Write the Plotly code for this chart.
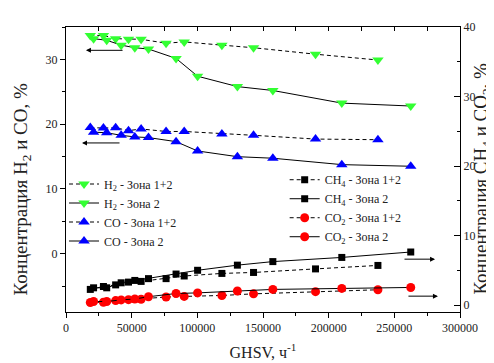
import plotly.graph_objects as go

# GHSV values (h^-1)
ghsv_12 = [18500, 28500, 37800, 47600, 57200, 76200, 90000, 118700, 142800, 190000, 237500]
ghsv_2 = [21000, 31000, 42000, 52400, 62800, 83800, 100200, 130500, 157500, 210000, 262500]

# Left axis (H2, CO), %
h2_12 = [33.7, 33.7, 33.2, 33.1, 33.1, 32.5, 32.7, 32.2, 31.8, 30.8, 29.9]
h2_2 = [33.2, 32.95, 32.2, 31.8, 31.6, 30.15, 27.4, 25.8, 25.2, 23.25, 22.8]
co_12 = [19.47, 19.4, 19.45, 19.0, 19.26, 18.87, 18.87, 18.5, 18.28, 17.7, 17.6]
co_2 = [18.77, 18.67, 18.28, 18.03, 17.93, 17.3, 15.86, 14.98, 14.74, 13.75, 13.5]

# Right axis (CH4, CO2), %
ch4_12 = [2.25, 2.67, 2.9, 3.3, 3.4, 3.8, 4.18, 4.55, 4.69, 5.2, 5.7]
ch4_2 = [2.48, 2.48, 3.2, 3.54, 3.8, 4.46, 5.0, 5.74, 6.25, 6.85, 7.63]
co2_12 = [0.37, 0.41, 0.64, 0.78, 0.83, 1.15, 1.24, 1.38, 1.61, 1.93, 2.2]
co2_2 = [0.51, 0.51, 0.74, 0.87, 1.2, 1.66, 1.75, 2.02, 2.25, 2.39, 2.53]

FONT = "Liberation Serif, Times New Roman, serif"
GREEN = "#33ff33"
BLUE = "#0000ff"
RED = "#ff0000"
TXT = "#222"
DASH = "4px,3px"

fig = go.Figure()

def add(x, y, name, dash, symbol, color, size, yaxis, legend):
    fig.add_trace(go.Scatter(
        x=x, y=y, name=name, mode="lines+markers",
        line=dict(color="black", width=1, dash=dash),
        marker=dict(symbol=symbol, color=color, size=size, line=dict(width=0)),
        yaxis=yaxis, legend=legend,
    ))

add(ghsv_12, h2_12, "H<sub>2</sub> - Зона 1+2", DASH, "triangle-down", GREEN, 10, "y", "legend")
add(ghsv_2, h2_2, "H<sub>2</sub> - Зона 2", "solid", "triangle-down", GREEN, 10, "y", "legend")
add(ghsv_12, co_12, "CO - Зона 1+2", DASH, "triangle-up", BLUE, 10, "y", "legend")
add(ghsv_2, co_2, "CO - Зона 2", "solid", "triangle-up", BLUE, 10, "y", "legend")
add(ghsv_12, ch4_12, "CH<sub>4</sub> - Зона 1+2", DASH, "square", "black", 7, "y2", "legend2")
add(ghsv_2, ch4_2, "CH<sub>4</sub> - Зона 2", "solid", "square", "black", 7, "y2", "legend2")
add(ghsv_12, co2_12, "CO<sub>2</sub> - Зона 1+2", DASH, "circle", RED, 9, "y2", "legend2")
add(ghsv_2, co2_2, "CO<sub>2</sub> - Зона 2", "solid", "circle", RED, 9, "y2", "legend2")

# invisible trace to activate top axis
fig.add_trace(go.Scatter(x=[0], y=[None], xaxis="x2", showlegend=False, hoverinfo="skip"))

line_common = dict(showgrid=False, zeroline=False, showline=True, linecolor="black", linewidth=1,
                   tickcolor="black")
axis_common = dict(line_common, tickfont=dict(family=FONT, size=12, color=TXT))

fig.update_layout(
    width=494, height=363,
    margin=dict(l=58, r=42, t=17, b=49),
    plot_bgcolor="white", paper_bgcolor="white",
    font=dict(family=FONT, size=12, color=TXT),
    xaxis=dict(range=[0, 300000], dtick=50000, tick0=0, tickformat="d", ticks="outside", ticklen=5,
               minor=dict(dtick=25000, ticks="outside", ticklen=3, tickcolor="black"),
               title=dict(text="GHSV, ч<sup>-1</sup>", font=dict(family=FONT, size=16, color=TXT), standoff=12),
               **axis_common),
    xaxis2=dict(range=[0, 300000], overlaying="x", side="top", showticklabels=False, ticks="inside",
                dtick=25000, tick0=0, ticklen=4, **line_common),
    yaxis=dict(range=[-9, 35], dtick=10, tick0=0, ticks="outside", ticklen=5,
               minor=dict(dtick=5, ticks="outside", ticklen=3, tickcolor="black"),
               **axis_common),
    yaxis2=dict(range=[-1, 40], dtick=10, tick0=0, ticks="inside", ticklen=6, overlaying="y", side="right",
                minor=dict(dtick=5, ticks="inside", ticklen=3, tickcolor="black"),
                **axis_common),
    legend=dict(x=-0.005, y=0.5, xanchor="left", yanchor="top", bgcolor="rgba(0,0,0,0)",
                font=dict(family=FONT, size=12, color=TXT), itemwidth=30, tracegroupgap=0),
    legend2=dict(x=0.555, y=0.515, xanchor="left", yanchor="top", bgcolor="rgba(0,0,0,0)",
                 font=dict(family=FONT, size=12, color=TXT), itemwidth=30, tracegroupgap=0),
)

# axis titles (rotated)
fig.add_annotation(text="Концентрация H<sub>2</sub> и CO, %", xref="paper", yref="paper",
                   x=(14 - 58) / 394, y=0.43, xanchor="center", yanchor="middle",
                   textangle=-90, showarrow=False,
                   font=dict(family=FONT, size=19, color=TXT))
fig.add_annotation(text="Концентрация CH<sub>4</sub> и CO<sub>2</sub>, %", xref="paper", yref="paper",
                   x=(474 - 58) / 394, y=0.468, xanchor="center", yanchor="middle",
                   textangle=-90, showarrow=False,
                   font=dict(family=FONT, size=19, color=TXT))

# arrows indicating axes
arrows = [
    dict(x=15200, y=31.4, ax=44200, ay=31.4, yref="y"),
    dict(x=12200, y=17.1, ax=41900, ay=17.1, yref="y"),
    dict(x=281000, y=6.6, ax=256600, ay=6.6, yref="y2"),
    dict(x=283200, y=1.28, ax=259600, ay=1.28, yref="y2"),
]
for a in arrows:
    fig.add_annotation(x=a["x"], y=a["y"], ax=a["ax"], ay=a["ay"], xref="x", yref=a["yref"],
                       axref="x", ayref=a["yref"], showarrow=True, arrowhead=2, arrowsize=1,
                       arrowwidth=1, arrowcolor="black", text="")

fig.write_html("out.html")
